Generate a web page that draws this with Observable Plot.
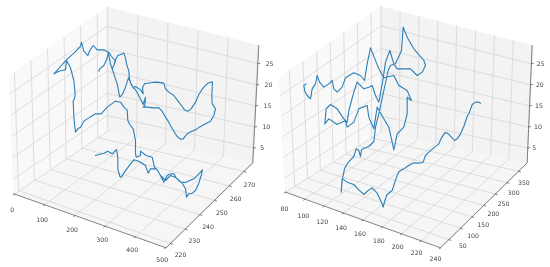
<!DOCTYPE html>
<html><head><meta charset="utf-8">
<script src="https://cdn.jsdelivr.net/npm/d3@7"></script>
<script src="https://cdn.jsdelivr.net/npm/@observablehq/plot@0.6"></script>
<style>html,body{margin:0;padding:0;background:#fff}#c{display:flex;width:550px;height:267px;will-change:opacity;opacity:.999}svg{display:block}</style>
</head><body><div id="c"></div>
<script>
// Tick values of each panel
const leftXTicks=[0,100,200,300,400,500], leftYTicks=[220,230,240,250,260,270], zTicks=[5,10,15,20,25];
const rightXTicks=[80,100,120,140,160,180,200,220,240], rightYTicks=[50,100,150,200,250,300,350];
// Trajectories, in 3x picture units of each panel
const leftU=[295,298,310,318,325,333,345,340,335,340,345,352,370,375,378,385,387,392,397,405,412,425,428,435,433,428,440,460,475,485,495,503,510,520,530,540,548,560,566,585,600,618,630,640,645,642,635,634,636,630,622,608,595,585,572,562,552,545,530,520,505,495,490,470,455,432,426,428,420,405,398,392,385,384,372,365,358,350,335,330,323,310,290,278,268,262,250,243,240,220,198,180,160,175,195,198,210,220,224,222,218,220,222,225,232,240,250,268,285,302,320,345,360,372,380,382,388,398,405,405,407,420,420,437,455,462,470,480,490,500,510,520,527,540,555,580,595,606,602,595,585,575,565,558,555,545,527,510,495,480,468,450,443,435,415,400,385,372,362,358,352,352,348,335,322,310,295,285];
const leftV=[212,205,195,178,155,168,182,195,205,195,178,165,158,172,190,212,235,252,260,268,280,305,312,290,315,320,320,322,322,332,350,362,375,392,408,416,415,400,396,388,378,368,362,345,325,320,310,285,245,245,248,262,282,305,325,332,328,318,298,285,275,265,248,245,246,250,262,280,268,258,262,250,235,232,268,282,290,250,205,190,155,148,148,135,150,165,152,125,138,158,178,198,220,212,208,180,202,240,280,295,300,345,370,395,385,380,362,350,340,340,320,302,305,322,328,360,372,385,420,458,470,465,452,465,470,500,508,525,545,525,520,520,532,545,546,535,520,508,525,548,570,578,580,590,565,548,532,525,540,525,505,505,518,495,482,478,497,515,530,528,505,470,447,460,452,458,462,465];
const rightU=[615,610,600,590,582,575,565,555,545,537,525,515,508,498,490,475,460,450,443,430,415,400,385,372,365,358,350,335,328,323,318,305,290,278,265,250,235,215,200,197,200,204,207,215,225,235,242,250,255,258,262,280,295,300,310,325,338,345,360,378,383,395,415,445,450,440,425,405,380,365,355,343,330,322,310,300,290,280,265,245,235,220,215,205,185,165,152,148,160,185,210,215,235,250,275,280,295,305,325,340,355,365,385,395,395,408,395,370,355,325,310,285,275,267,255,235,210,200,185,175,170,160,145,132,125,120,110,105,95,88,85,92];
const rightV=[308,305,305,312,335,348,378,400,415,420,407,397,397,412,430,442,455,465,485,488,487,495,505,512,525,545,570,582,600,620,605,578,562,570,582,568,552,545,535,575,540,520,505,490,478,468,445,450,468,448,445,438,423,380,340,270,210,195,190,150,80,110,145,180,195,215,225,205,205,205,190,150,185,240,305,285,255,260,265,245,275,330,365,355,325,312,325,370,355,372,360,380,365,325,315,350,385,320,355,380,448,400,380,340,290,300,270,255,225,232,205,142,190,240,225,217,232,260,275,265,240,250,260,245,225,250,265,295,285,272,255,250];
// Axis limits of each panel
const leftLim={x:[-2,502],y:[217,276],z:[1.5,29.3]};
const rightLim={x:[80,240],y:[14,387],z:[1.5,29.3]};
// Cube corners on screen (3x picture units) [x,y,z] -> [u,v]
const leftBox={"000":[40,580],"100":[497,742],"110":[757,487],"010":[320,392],"001":[27,225],"101":[500,385],"111":[775,135],"011":[320,20]};
const rightBox={"000":[30,575],"100":[495,742],"110":[755,487],"010":[317,395],"001":[12,232],"101":[498,388],"111":[770,135],"011":[317,18]};

function panel(cfg){
  const {lim,box,xT,yT,zT,traceU,traceV,xOff,yOff,zOff}=cfg;
  const lerp=(a,b,t)=>a+(b-a)*t;
  const P=(a,b,c)=>{ // trilinear in normalised cube
    const f=i=>lerp(lerp(lerp(box["000"][i],box["100"][i],a),lerp(box["010"][i],box["110"][i],a),b),
                    lerp(lerp(box["001"][i],box["101"][i],a),lerp(box["011"][i],box["111"][i],a),b),c);
    return {u:f(0),v:f(1)};
  };
  const nx=t=>(t-lim.x[0])/(lim.x[1]-lim.x[0]), ny=t=>(t-lim.y[0])/(lim.y[1]-lim.y[0]), nz=t=>(t-lim.z[0])/(lim.z[1]-lim.z[0]);
  const seg=(pts,o={})=>Plot.line(pts,{x:"u",y:"v",stroke:"#d6d6d6",strokeWidth:.8,...o});
  const grid=[];
  for(const t of xT){const a=nx(t);grid.push(seg([P(a,0,0),P(a,1,0),P(a,1,1)]));}
  for(const t of yT){const b=ny(t);grid.push(seg([P(1,b,0),P(0,b,0),P(0,b,1)]));}
  for(const t of zT){const c=nz(t);grid.push(seg([P(0,0,c),P(0,1,c),P(1,1,c)]));}
  const pane=(pts,fill)=>Plot.line(pts,{x:"u",y:"v",fill,stroke:"#f4f4f4",strokeWidth:.6});
  const dark={stroke:"#555",strokeWidth:.7};
  const ticks=[],labels=[];
  const tick=(base,dir)=>ticks.push(seg([base,{u:base.u+dir[0],v:base.v+dir[1]}],dark));
  xT.forEach((t,i)=>{const a=nx(t),p=P(a,0,0);tick(p,[-4,3]);const r=i/(xT.length-1);
    labels.push({u:p.u+lerp(xOff[0][0],xOff[1][0],r),v:p.v+lerp(xOff[0][1],xOff[1][1],r),t});});
  yT.forEach((t,i)=>{const b=ny(t),p=P(1,b,0);tick(p,[6,2]);const r=i/(yT.length-1);
    labels.push({u:p.u+lerp(yOff[0][0],yOff[1][0],r),v:p.v+lerp(yOff[0][1],yOff[1][1],r),t});});
  zT.forEach(t=>{const c=nz(t),p=P(1,1,c);tick(p,[6,-1]);
    labels.push({u:p.u+zOff+(t<10?-9:0),v:p.v+1,t});});
  return Plot.plot({width:275,height:267,margin:0,
    x:{domain:[0,825],range:[0,275],axis:null},
    y:{domain:[0,801],range:[0,267],axis:null},
    marks:[
      pane([P(0,0,0),P(0,0,1),P(0,1,1),P(0,1,0)],"#f9f9f9"),
      pane([P(0,1,0),P(0,1,1),P(1,1,1),P(1,1,0)],"#f3f3f3"),
      pane([P(0,0,0),P(1,0,0),P(1,1,0),P(0,1,0)],"#f6f6f6"),
      ...grid,
      seg([P(0,0,0),P(1,0,0),P(1,1,0),P(1,1,1)],dark),
      ...ticks,
      Plot.text(labels,{x:"u",y:"v",text:d=>String(d.t),fontSize:6.2,fontFamily:"DejaVu Sans",fill:"#444",textAnchor:"middle"}),
      Plot.line(traceU.map((u,i)=>({u,v:traceV[i]})),{x:"u",y:"v",stroke:"#2a7fb8",strokeWidth:1.1,curve:"linear"})
    ]});
}
const host=document.getElementById("c");
host.append(panel({lim:leftLim,box:leftBox,xT:leftXTicks,yT:leftYTicks,zT:zTicks,traceU:leftU,traceV:leftV,xOff:[[-7,48],[-10,37]],yOff:[[30,36],[16,40]],zOff:35}));
host.append(panel({lim:rightLim,box:rightBox,xT:rightXTicks,yT:rightYTicks,zT:zTicks,traceU:rightU,traceV:rightV,xOff:[[-3,52],[-15,34]],yOff:[[42,20],[16,34]],zOff:28}));
</script></body></html>
